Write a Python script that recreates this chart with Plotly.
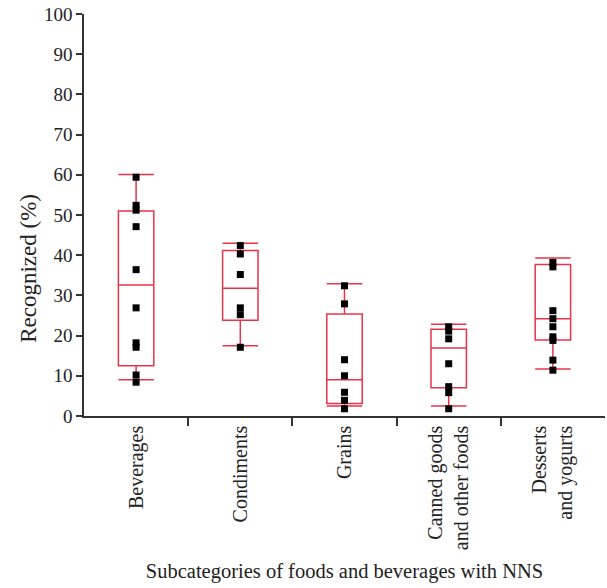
import plotly.graph_objects as go

categories = ["Beverages", "Condiments", "Grains",
              "Canned goods<br>and other foods", "Desserts<br>and yogurts"]

# box statistics
q1 = [12.5, 23.8, 3.1, 7.0, 18.9]
median = [32.6, 31.8, 9.0, 16.9, 24.2]
q3 = [51.0, 41.2, 25.4, 21.6, 37.7]
lower = [9.0, 17.5, 2.5, 2.5, 11.7]
upper = [60.1, 43.0, 32.9, 22.8, 39.3]

# individual observations
beverages = [59.4, 52.4, 51.2, 47.1, 36.4, 26.9, 18.2, 17.1, 10.2, 8.4]
condiments = [42.4, 40.3, 35.2, 26.9, 25.2, 17.1]
grains = [32.4, 27.9, 14.0, 10.0, 5.9, 3.9, 1.8]
canned = [22.2, 21.1, 19.2, 13.0, 7.3, 5.8, 1.8]
desserts = [38.2, 37.1, 26.2, 24.2, 22.2, 19.7, 18.8, 13.9, 11.4]

groups = [beverages, condiments, grains, canned, desserts]

RED = "#E8334A"
FONT = "Liberation Serif"
AX = "#333333"

fig = go.Figure()
fig.add_trace(go.Box(
    x=categories, q1=q1, median=median, q3=q3,
    lowerfence=lower, upperfence=upper,
    boxpoints=False, width=0.34, whiskerwidth=1,
    line=dict(color=RED, width=1.5),
    fillcolor="rgba(255,255,255,0)",
    showlegend=False,
))

px, py = [], []
for cat, vals in zip(categories, groups):
    px += [cat] * len(vals)
    py += vals
fig.add_trace(go.Scatter(
    x=px, y=py, mode="markers",
    marker=dict(symbol="square", size=7, color="black"),
    showlegend=False,
))

# separator ticks between categories (interior boundaries only)
boundaries = [i + 0.5 for i in range(len(categories) - 1)]
# invisible helper trace so that the separator-tick axis is drawn
fig.add_trace(go.Scatter(
    x=boundaries, y=[None] * len(boundaries), xaxis="x2",
    mode="markers", marker=dict(opacity=0), hoverinfo="skip",
    showlegend=False,
))

fig.update_layout(
    width=607, height=588,
    margin=dict(l=84, r=2, t=14, b=172),
    plot_bgcolor="white", paper_bgcolor="white",
    font=dict(family=FONT, size=19, color="#222"),
    xaxis=dict(
        type="category", ticks="",
        showline=True, linecolor=AX, linewidth=1.5,
        tickangle=-90, showgrid=False, automargin=False,
        tickfont=dict(family=FONT, size=20),
        title=dict(text="Subcategories of foods and beverages with NNS",
                   font=dict(family=FONT, size=20.5), standoff=14),
        range=[-0.5, 4.5],
    ),
    xaxis2=dict(
        overlaying="x", side="bottom", range=[-0.5, 4.5],
        tickvals=boundaries, ticktext=[""] * len(boundaries),
        ticks="outside", ticklen=9, tickcolor=AX, tickwidth=1.5,
        showline=False, showgrid=False, zeroline=False, automargin=False,
    ),
    yaxis=dict(
        range=[0, 100], dtick=10, ticks="outside", ticklen=6,
        tickcolor=AX, tickwidth=1.5, showline=True, linecolor=AX,
        linewidth=1.5, automargin=False, ticklabeloverflow="allow",
        showgrid=False, zeroline=False,
        tickfont=dict(family=FONT, size=19),
    ),
    annotations=[dict(
        text="Recognized (%)", textangle=-90,
        xref="paper", yref="paper", x=-0.108, y=0.368,
        xanchor="center", yanchor="middle", showarrow=False,
        font=dict(family=FONT, size=23, color="#222"),
    )],
)

fig.write_html("out.html",
               config={"displayModeBar": False},
               post_script="document.body.style.margin='0px';")
